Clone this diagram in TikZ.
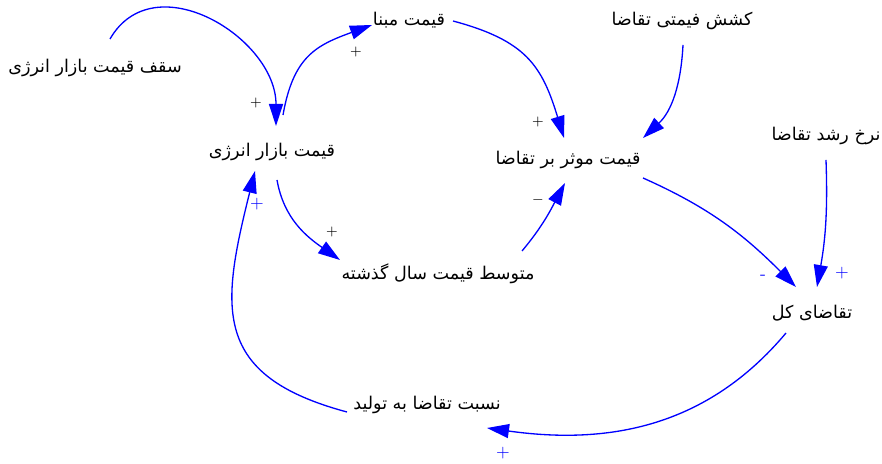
\documentclass[tikz,border=0pt]{standalone}
\usepackage{fontspec}
\usepackage{tikz}
\usetikzlibrary{arrows.meta}
\newfontfamily\farsi[Script=Arabic]{DejaVu Sans}
\TeXXeTstate=1
\definecolor{cldblue}{HTML}{0000FF}
\newcommand{\rtltxt}[1]{\beginR #1\endR}

\begin{document}
\begin{tikzpicture}[
  var/.style={font=\farsi\fontsize{10}{12}\selectfont, inner sep=1pt},
  link/.style={cldblue, line width=0.75pt, -{Triangle[length=4.4mm,width=2.8mm]}},
  sgn/.style={font=\fontsize{8}{9}\selectfont, inner sep=0pt},
  bsgn/.style={sgn, text=cldblue, font=\fontsize{10}{11}\selectfont},
]
  \useasboundingbox (0,0) rectangle (17.64,9.28);
  % variables
  \node[var] (sagf) at (1.90,7.92) {\rtltxt{سقف قیمت بازار انرژی}};
  \node[var] (mabna) at (8.18,8.88) {\rtltxt{قیمت مبنا}};
  \node[var] (keshesh) at (13.64,8.86) {\rtltxt{کشش فیمتی تقاضا}};
  \node[var] (bazar) at (5.44,6.24) {\rtltxt{قیمت بازار انرژی}};
  \node[var] (movasser) at (11.36,6.08) {\rtltxt{قیمت موثر بر تقاضا}};
  \node[var] (rosht) at (16.52,6.56) {\rtltxt{نرخ رشد تقاضا}};
  \node[var] (motavaset) at (8.76,3.80) {\rtltxt{متوسط قیمت سال گذشته}};
  \node[var] (kol) at (16.24,3.02) {\rtltxt{تقاضای کل}};
  \node[var] (nesbat) at (8.54,1.18) {\rtltxt{نسبت تقاضا به تولید}};
  % causal links
  \draw[link] ([shift={(0.30,0.58)}]sagf.center) to[out=60,in=90,looseness=1.2] ([shift={(0.08,0.52)}]bazar.center);
  \draw[link] ([shift={(0.22,0.74)}]bazar.center) to[out=80,in=200,looseness=1.2] ([shift={(-0.74,-0.10)}]mabna.center);
  \draw[link] ([shift={(0.88,-0.02)}]mabna.center) to[out=-15,in=107,looseness=1.2] ([shift={(-0.08,0.44)}]movasser.center);
  \draw[link] ([shift={(0.02,-0.48)}]keshesh.center) to[out=-93,in=43] ([shift={(1.50,0.44)}]movasser.center);
  \draw[link] ([shift={(0,-0.48)}]rosht.center) to[out=-88,in=80] ([shift={(0.10,0.52)}]kol.center);
  \draw[link] ([shift={(1.50,-0.36)}]movasser.center) to[out=-24,in=135] ([shift={(-0.32,0.52)}]kol.center);
  \draw[link] ([shift={(0.10,-0.56)}]bazar.center) to[out=-80,in=145] ([shift={(-1.96,0.28)}]motavaset.center);
  \draw[link] ([shift={(1.68,0.46)}]motavaset.center) to[out=50,in=-118] ([shift={(-0.06,-0.46)}]movasser.center);
  \draw[link] ([shift={(-0.52,-0.40)}]kol.center) to[out=-130,in=-8] ([shift={(1.20,-0.46)}]nesbat.center);
  \draw[link] ([shift={(-1.60,-0.14)}]nesbat.center) to[out=165,in=256,looseness=1.4] ([shift={(-0.34,-0.38)}]bazar.center);
  % polarity signs
  \node[sgn] (p1) at (5.12,7.22) {+};
  \node[sgn] (p2) at (7.12,8.24) {+};
  \node[sgn] (p3) at (10.76,6.84) {+};
  \node[sgn] (p4) at (6.64,4.64) {+};
  \node[sgn] (m1) at (10.76,5.28) {$-$};
  \node[bsgn] (p5) at (5.14,5.20) {+};
  \node[bsgn] (p6) at (16.84,3.82) {+};
  \node[bsgn] (m2) at (15.26,3.74) {-};
  \node[bsgn] (p7) at (10.06,0.22) {+};
\end{tikzpicture}
\end{document}
